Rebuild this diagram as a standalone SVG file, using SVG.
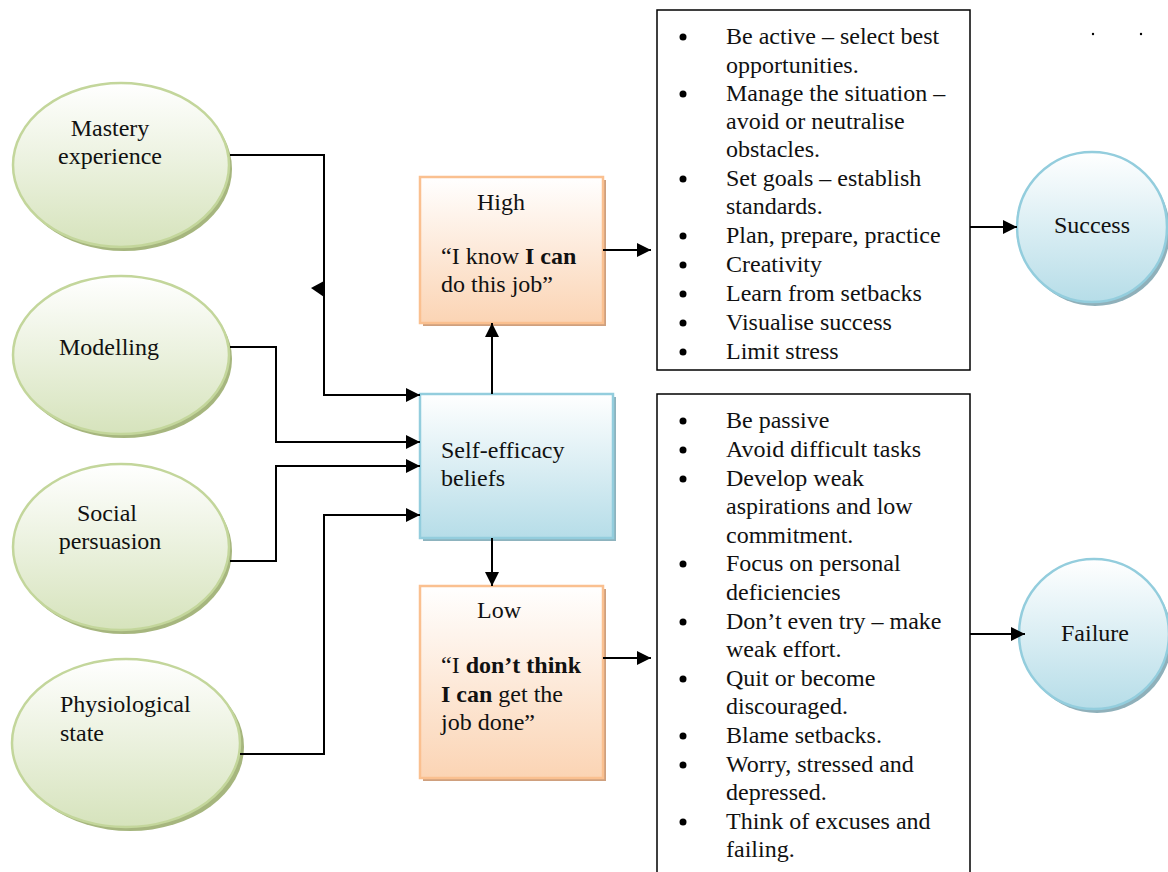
<svg xmlns="http://www.w3.org/2000/svg" width="1168" height="872" viewBox="0 0 1168 872">
  <defs>
    <linearGradient id="gGreen" x1="0" y1="0" x2="0" y2="1">
      <stop offset="0" stop-color="#ffffff"/>
      <stop offset="1" stop-color="#d6e3bc"/>
    </linearGradient>
    <linearGradient id="gBlue" x1="0" y1="0" x2="0" y2="1">
      <stop offset="0" stop-color="#ffffff"/>
      <stop offset="1" stop-color="#b6dde8"/>
    </linearGradient>
    <linearGradient id="gOrange" x1="0" y1="0" x2="0" y2="1">
      <stop offset="0" stop-color="#ffffff"/>
      <stop offset="1" stop-color="#fbd4b4"/>
    </linearGradient>
    <marker id="arrow" viewBox="0 0 10 10" refX="10" refY="5" markerWidth="14" markerHeight="14" markerUnits="userSpaceOnUse" orient="auto">
      <path d="M0,0 L10,5 L0,10 z" fill="#000"/>
    </marker>
  </defs>
  <style>
    .b { font-weight: bold; }
    .mid { text-anchor: middle; }
    .ell { fill: url(#gGreen); stroke: #c3d69b; stroke-width: 2.5; }
    .ellShadow { fill: #a6b67e; }
    .blue { fill: url(#gBlue); stroke: #93cddd; stroke-width: 2.5; }
    .blueShadow { fill: #8db3be; }
    .orange { fill: url(#gOrange); stroke: #fac090; stroke-width: 2.5; }
    .orangeShadow { fill: #cfa07e; }
    .list { fill: #fff; stroke: #000; stroke-width: 1.5; }
    .conn { fill: none; stroke: #000; stroke-width: 2; marker-end: url(#arrow); }
  </style>

  <rect width="1168" height="872" fill="#fff"/>

  <g font-family="'Liberation Serif', 'Times New Roman', 'DejaVu Serif', serif" font-size="24" fill="#111">

  <!-- source ellipses -->
  <g id="mastery">
    <ellipse class="ellShadow" cx="124" cy="169" rx="108" ry="82"/>
    <ellipse class="ell" cx="121" cy="165" rx="108" ry="82"/>
    <text x="110" y="136" class="mid">Mastery</text>
    <text x="110" y="164" class="mid">experience</text>
  </g>
  <g id="modelling">
    <ellipse class="ellShadow" cx="124" cy="359" rx="108" ry="79"/>
    <ellipse class="ell" cx="121" cy="355" rx="108" ry="79"/>
    <text x="59" y="355">Modelling</text>
  </g>
  <g id="social">
    <ellipse class="ellShadow" cx="124" cy="551" rx="108" ry="83"/>
    <ellipse class="ell" cx="121" cy="547" rx="108" ry="83"/>
    <text x="107" y="521" class="mid">Social</text>
    <text x="110" y="549" class="mid">persuasion</text>
  </g>
  <g id="physiological">
    <ellipse class="ellShadow" cx="130" cy="747" rx="114" ry="84"/>
    <ellipse class="ell" cx="126" cy="743" rx="114" ry="84"/>
    <text x="60" y="712">Physiological</text>
    <text x="60" y="741">state</text>
  </g>

  <!-- central belief box -->
  <g id="self-efficacy">
    <rect class="blueShadow" x="423" y="397" width="193" height="144"/>
    <rect class="blue" x="420" y="394" width="193" height="144"/>
    <text x="441" y="458">Self-efficacy</text>
    <text x="441" y="486">beliefs</text>
  </g>

  <!-- high / low outcome expectations -->
  <g id="high">
    <rect class="orangeShadow" x="423" y="180" width="183" height="146"/>
    <rect class="orange" x="420" y="177" width="183" height="146"/>
    <text x="477" y="210">High</text>
    <text x="441" y="264">“I know <tspan class="b">I can</tspan></text>
    <text x="441" y="292">do this job”</text>
  </g>
  <g id="low">
    <rect class="orangeShadow" x="423" y="589" width="183" height="192"/>
    <rect class="orange" x="420" y="586" width="183" height="192"/>
    <text x="477" y="618">Low</text>
    <text x="441" y="673">“I <tspan class="b">don’t think</tspan></text>
    <text x="441" y="702"><tspan class="b">I can</tspan> get the</text>
    <text x="441" y="730">job done”</text>
  </g>

  <!-- behaviour lists -->
  <g id="high-behaviours">
    <rect class="list" x="657" y="10" width="313" height="360"/>
    <g fill="#000">
      <circle cx="683" cy="37" r="3.5"/>
      <circle cx="683" cy="94" r="3.5"/>
      <circle cx="683" cy="179" r="3.5"/>
      <circle cx="683" cy="236" r="3.5"/>
      <circle cx="683" cy="265" r="3.5"/>
      <circle cx="683" cy="294" r="3.5"/>
      <circle cx="683" cy="323" r="3.5"/>
      <circle cx="683" cy="352" r="3.5"/>
    </g>
    <text x="726" y="44">Be active – select best</text>
    <text x="726" y="73">opportunities.</text>
    <text x="726" y="101">Manage the situation –</text>
    <text x="726" y="129">avoid or neutralise</text>
    <text x="726" y="157">obstacles.</text>
    <text x="726" y="186">Set goals – establish</text>
    <text x="726" y="214">standards.</text>
    <text x="726" y="243">Plan, prepare, practice</text>
    <text x="726" y="272">Creativity</text>
    <text x="726" y="301">Learn from setbacks</text>
    <text x="726" y="330">Visualise success</text>
    <text x="726" y="359">Limit stress</text>
  </g>
  <g id="low-behaviours">
    <rect class="list" x="657" y="394" width="313" height="485"/>
    <g fill="#000">
      <circle cx="683" cy="421" r="3.5"/>
      <circle cx="683" cy="450" r="3.5"/>
      <circle cx="683" cy="479" r="3.5"/>
      <circle cx="683" cy="564" r="3.5"/>
      <circle cx="683" cy="622" r="3.5"/>
      <circle cx="683" cy="679" r="3.5"/>
      <circle cx="683" cy="736" r="3.5"/>
      <circle cx="683" cy="765" r="3.5"/>
      <circle cx="683" cy="822" r="3.5"/>
    </g>
    <text x="726" y="428">Be passive</text>
    <text x="726" y="457">Avoid difficult tasks</text>
    <text x="726" y="486">Develop weak</text>
    <text x="726" y="514">aspirations and low</text>
    <text x="726" y="543">commitment.</text>
    <text x="726" y="571">Focus on personal</text>
    <text x="726" y="600">deficiencies</text>
    <text x="726" y="629">Don’t even try – make</text>
    <text x="726" y="657">weak effort.</text>
    <text x="726" y="686">Quit or become</text>
    <text x="726" y="714">discouraged.</text>
    <text x="726" y="743">Blame setbacks.</text>
    <text x="726" y="772">Worry, stressed and</text>
    <text x="726" y="800">depressed.</text>
    <text x="726" y="829">Think of excuses and</text>
    <text x="726" y="857">failing.</text>
  </g>

  <!-- end states -->
  <g id="success">
    <circle cx="1095" cy="231" r="75" fill="#8fb0ba"/>
    <circle class="blue" cx="1092" cy="227" r="75"/>
    <text x="1092" y="233" class="mid">Success</text>
  </g>
  <g id="failure">
    <circle cx="1097" cy="638" r="75" fill="#8fb0ba"/>
    <circle class="blue" cx="1094" cy="634" r="75"/>
    <text x="1095" y="641" class="mid">Failure</text>
  </g>
  </g>

  <!-- stray marks -->
  <g id="dots" fill="#000">
    <circle cx="1093" cy="34" r="1.2"/>
    <circle cx="1141" cy="34" r="1.2"/>
  </g>

  <!-- connectors -->
  <g id="connectors">
    <polyline class="conn" points="230,155 324,155 324,395 420,395"/>
    <polygon points="311,288 324,281 324,297" fill="#000"/>
    <polyline class="conn" points="230,347 276,347 276,442 420,442"/>
    <polyline class="conn" points="230,561 276,561 276,466 420,466"/>
    <polyline class="conn" points="240,754 324,754 324,515 420,515"/>
    <line class="conn" x1="492" y1="394" x2="492" y2="323"/>
    <line class="conn" x1="492" y1="538" x2="492" y2="586"/>
    <line class="conn" x1="603" y1="250" x2="651" y2="250"/>
    <line class="conn" x1="603" y1="658" x2="651" y2="658"/>
    <line class="conn" x1="970" y1="227" x2="1017" y2="227"/>
    <line class="conn" x1="970" y1="634" x2="1025" y2="634"/>
  </g>
</svg>
